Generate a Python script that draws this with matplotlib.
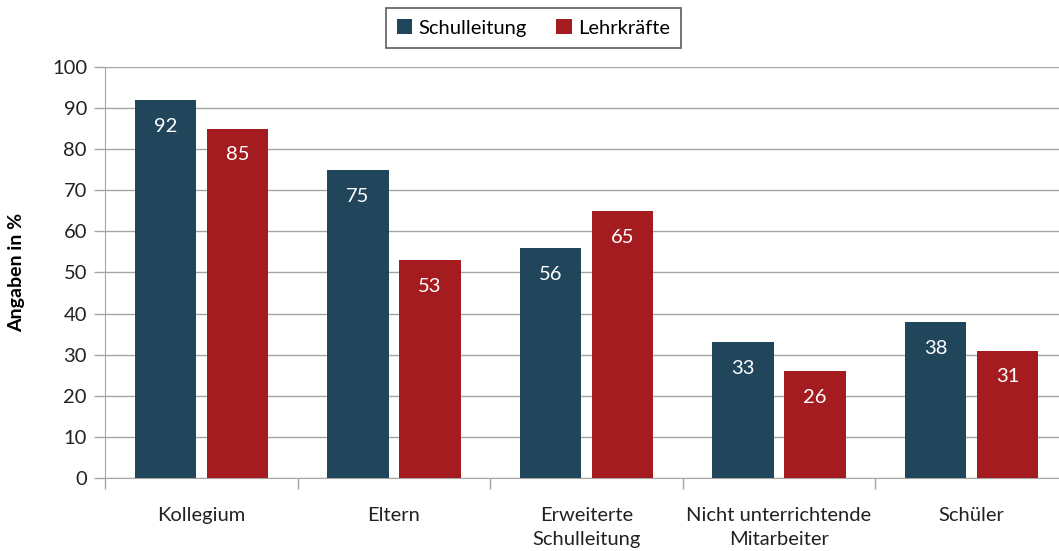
import numpy as np
import matplotlib.pyplot as plt

plt.rcParams['font.family'] = ['Lato', 'DejaVu Sans']

categories = ['Kollegium', 'Eltern', 'Erweiterte\nSchulleitung',
              'Nicht unterrichtende\nMitarbeiter', 'Schüler']
schulleitung = [92, 75, 56, 33, 38]
lehrkraefte = [85, 53, 65, 26, 31]
series_names = ['Schulleitung', 'Lehrkräfte']

dark = '#21455A'
red = '#A51C20'
grid_col = '#A6A6A6'

fig = plt.figure(figsize=(10.59, 5.51), dpi=100)
ax = fig.add_axes([0.0992, 0.1325, 0.909, 0.746])

x = np.arange(len(categories))
w = 0.32
off = 0.187

b1 = ax.bar(x - off, schulleitung, w, color=dark, label=series_names[0], zorder=3)
b2 = ax.bar(x + off, lehrkraefte, w, color=red, label=series_names[1], zorder=3)

for bars, vals in [(b1, schulleitung), (b2, lehrkraefte)]:
    for b, v in zip(bars, vals):
        ax.annotate(str(v), (b.get_x() + b.get_width() / 2, v), xytext=(0, -19),
                    textcoords='offset points', ha='center', va='center',
                    color='white', fontsize=14.5, zorder=4)

ax.set_xlim(-0.5, len(categories) - 0.5)
ax.set_ylim(0, 100)
ax.set_yticks(range(0, 101, 10))
ax.yaxis.grid(True, color=grid_col, linewidth=1, zorder=0)

ax.set_xticks(x)
ax.set_xticklabels(categories, fontsize=14.5, color='#222222', linespacing=1.5)
ax.set_xticks(np.arange(-0.5, len(categories)), minor=True)
ax.tick_params(axis='x', which='major', length=0, pad=21)
ax.tick_params(axis='x', which='minor', length=8, color=grid_col, width=1)
ax.tick_params(axis='y', length=8, color=grid_col, width=1, labelsize=14.5,
               labelcolor='#222222', pad=5)

for s in ['top', 'right']:
    ax.spines[s].set_visible(False)
for s in ['left', 'bottom']:
    ax.spines[s].set_color(grid_col)

ax.set_ylabel('Angaben in %', fontsize=14, fontweight='bold', labelpad=19)

leg = fig.legend(loc='upper center', bbox_to_anchor=(0.5035, 0.985), ncol=2,
                 fontsize=14.5, frameon=True, fancybox=False, edgecolor='#333333',
                 handlelength=0.75, handleheight=0.75, handletextpad=0.3,
                 columnspacing=1.5, borderpad=0.55, borderaxespad=0)
leg.get_frame().set_linewidth(1.2)

fig.savefig('out.png', dpi=100)
